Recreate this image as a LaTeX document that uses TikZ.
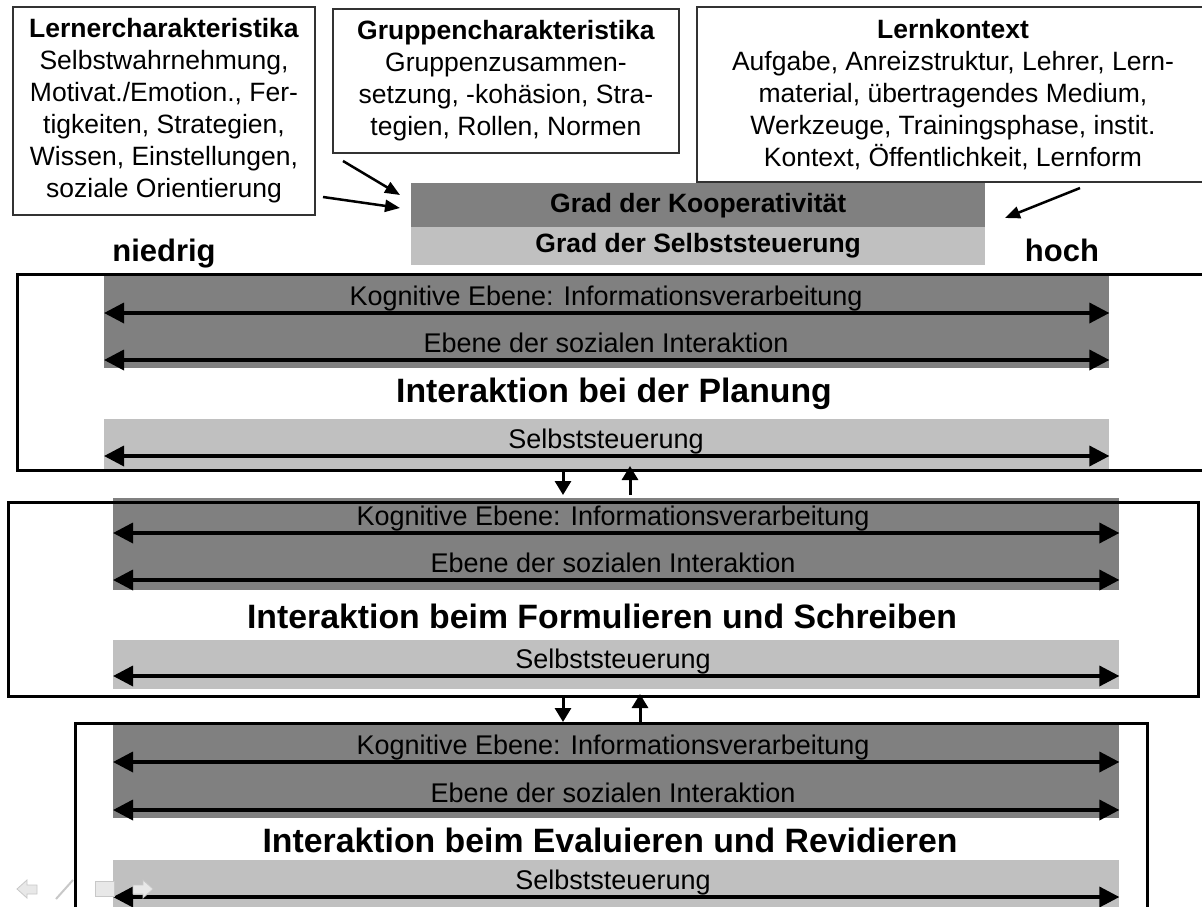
\documentclass[tikz,border=0pt]{standalone}
\usepackage{fontspec}
\setmainfont{Liberation Sans}
\usetikzlibrary{arrows.meta}
\definecolor{darkband}{RGB}{128,128,128}
\definecolor{lightband}{RGB}{192,192,192}
\definecolor{boxline}{RGB}{50,50,50}
\definecolor{navfill}{RGB}{232,232,232}
\definecolor{navline}{RGB}{200,200,200}
\begin{document}
\begin{tikzpicture}[x=1pt,y=-1pt,
  infobox/.style={draw=boxline,line width=1.2pt,fill=white,align=center,inner sep=0pt,font=\fontsize{26.5}{32}\selectfont},
  gradband/.style={inner sep=0pt,minimum width=574pt,anchor=north west,font=\bfseries\fontsize{26.5}{30}\selectfont},
  band/.style={inner sep=0pt,anchor=north west},
  frame/.style={draw=black,line width=3pt},
  bandtext/.style={anchor=base,inner sep=0pt,font=\fontsize{27}{30}\selectfont},
  headtext/.style={anchor=base,inner sep=0pt,font=\bfseries\fontsize{33.8}{38}\selectfont},
  scaletext/.style={anchor=base,inner sep=0pt,font=\bfseries\fontsize{31}{34}\selectfont},
  bandarrow/.style={{Triangle[length=20pt,width=20pt]}-{Triangle[length=20pt,width=20pt]},line width=3.5pt},
  flowarrow/.style={-{Triangle[length=14pt,width=16pt]},line width=3pt},
  inarrow/.style={-{Triangle[length=15pt,width=12pt]},line width=2.5pt},
  navicon/.style={fill=navfill,draw=navline,line width=0.8pt}
]
\useasboundingbox (0,0) rectangle (1202,907);
\clip (0,0) rectangle (1202,907);
\fill[white] (0,0) rectangle (1202,907);

% --- top info boxes ---
\node[infobox,minimum width=302pt,minimum height=208pt] (lerner) at (164,111)
  {\textbf{Lernercharakteristika}\\Selbstwahrnehmung,\\Motivat./Emotion., Fer-\\tigkeiten, Strategien,\\Wissen, Einstellungen,\\soziale Orientierung};
\node[infobox,minimum width=346pt,minimum height=144pt] (gruppe) at (506,81)
  {\textbf{Gruppencharakteristika}\\Gruppenzusammen-\\setzung, -kohäsion, Stra-\\tegien, Rollen, Normen};
\node[infobox,minimum width=512pt,minimum height=175pt] (kontext) at (953,94.5)
  {\textbf{Lernkontext}\\Aufgabe, Anreizstruktur, Lehrer, Lern-\\material, übertragendes Medium,\\Werkzeuge, Trainingsphase, instit.\\Kontext, Öffentlichkeit, Lernform};

% --- Grad box ---
\node[gradband,fill=darkband,minimum height=44pt] (koop) at (411,183) {Grad der Kooperativität};
\node[gradband,fill=lightband,minimum height=38pt] (steu) at (411,227) {Grad der Selbststeuerung};

% --- incoming arrows ---
\coordinate (a1s) at (323,197); \coordinate (a1e) at (400,208);
\coordinate (a2s) at (343,161); \coordinate (a2e) at (400,195);
\coordinate (a3s) at (1080,188); \coordinate (a3e) at (1005,218);
\draw[inarrow] (a1s) -- (a1e);
\draw[inarrow] (a2s) -- (a2e);
\draw[inarrow] (a3s) -- (a3e);

\node[scaletext] (niedrig) at (164,261) {niedrig};
\node[scaletext] (hoch) at (1062,261) {hoch};

% --- section 1 ---
\node[band,fill=darkband,minimum width=1005pt,minimum height=94pt] (d1) at (104,274) {};
\node[band,fill=lightband,minimum width=1005pt,minimum height=51pt] (l1) at (104,419) {};
\draw[frame] (17,274) rectangle (1215,470);
\node[bandtext] (k1) at (606,305) {Kognitive Ebene: Informationsverarbeitung};
\node[bandtext] (s1) at (606,352) {Ebene der sozialen Interaktion};
\node[bandtext] (st1) at (606,448) {Selbststeuerung};
\draw[bandarrow] (d1.west |- 0,313) -- (d1.east |- 0,313);
\draw[bandarrow] (d1.west |- 0,360) -- (d1.east |- 0,360);
\draw[bandarrow] (l1.west |- 0,456) -- (l1.east |- 0,456);
\node[headtext] (h1) at (614,402) {Interaktion bei der Planung};

% --- section 2 ---
\node[band,fill=darkband,minimum width=1006pt,minimum height=92pt] (d2) at (113,498) {};
\node[band,fill=lightband,minimum width=1006pt,minimum height=49pt] (l2) at (113,640) {};
\draw[frame] (8,502) rectangle (1198,696);
\node[bandtext] (k2) at (613,525) {Kognitive Ebene: Informationsverarbeitung};
\node[bandtext] (s2) at (613,572) {Ebene der sozialen Interaktion};
\node[bandtext] (st2) at (613,668) {Selbststeuerung};
\draw[bandarrow] (d2.west |- 0,533) -- (d2.east |- 0,533);
\draw[bandarrow] (d2.west |- 0,580) -- (d2.east |- 0,580);
\draw[bandarrow] (l2.west |- 0,676) -- (l2.east |- 0,676);
\node[headtext] (h2) at (602,628) {Interaktion beim Formulieren und Schreiben};

% --- section 3 ---
\node[band,fill=darkband,minimum width=1006pt,minimum height=93pt] (d3) at (113,725) {};
\node[band,fill=lightband,minimum width=1006pt,minimum height=70pt] (l3) at (113,860) {};
\draw[frame] (75,723) rectangle (1147,940);
\node[bandtext] (k3) at (613,754) {Kognitive Ebene: Informationsverarbeitung};
\node[bandtext] (s3) at (613,802) {Ebene der sozialen Interaktion};
\node[bandtext] (st3) at (613,889) {Selbststeuerung};
\draw[bandarrow] (d3.west |- 0,762) -- (d3.east |- 0,762);
\draw[bandarrow] (d3.west |- 0,810) -- (d3.east |- 0,810);
\draw[bandarrow] (l3.west |- 0,897) -- (l3.east |- 0,897);
\node[headtext] (h3) at (610,852) {Interaktion beim Evaluieren und Revidieren};

% --- flow arrows between sections ---
\coordinate (f1a) at (563,472); \coordinate (f1b) at (563,495);
\coordinate (f2a) at (630,495); \coordinate (f2b) at (630,466);
\coordinate (f3a) at (563,698); \coordinate (f3b) at (563,722);
\coordinate (f4a) at (640,722); \coordinate (f4b) at (640,694);
\draw[flowarrow] (f1a) -- (f1b);
\draw[flowarrow] (f2a) -- (f2b);
\draw[flowarrow] (f3a) -- (f3b);
\draw[flowarrow] (f4a) -- (f4b);

% --- faint slide navigation icons ---
\draw[navicon] (17,889) -- (27,880) -- (27,885) -- (37,885) -- (37,894) -- (27,894) -- (27,898) -- cycle;
\draw[navline,line width=2pt] (56,899) -- (73,880);
\draw[navicon] (95,881) rectangle (114,896);
\draw[navicon] (153,889) -- (143,880) -- (143,885) -- (133,885) -- (133,894) -- (143,894) -- (143,898) -- cycle;
\end{tikzpicture}
\end{document}
